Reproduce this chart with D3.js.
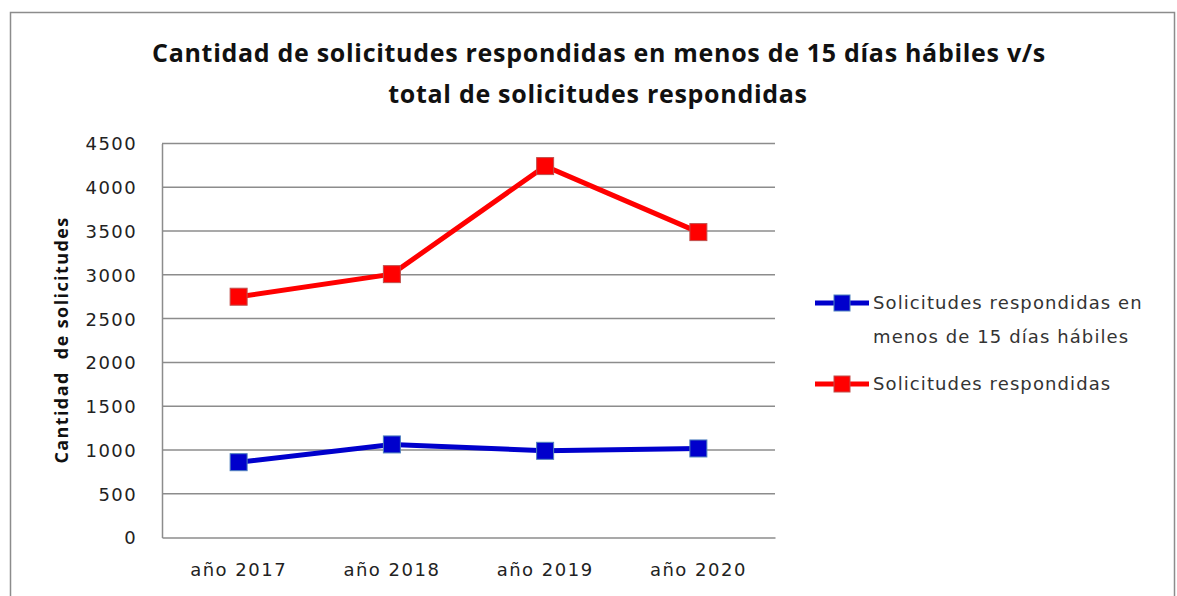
<!DOCTYPE html>
<html lang="es">
<head>
<meta charset="UTF-8">
<title>Cantidad de solicitudes</title>
<script src="https://d3js.org/d3.v7.min.js"></script>
<style>
    body { margin: 0; background: #fff; }
    svg { display: block; }
    .tick text { font-family: "DejaVu Sans", sans-serif; fill: #222; }
</style>
</head>
<body>
<svg id="chart" width="1177" height="596"></svg>
<script>
var years = ["año 2017", "año 2018", "año 2019", "año 2020"];
var enMenos15 = [860, 1063, 990, 1017];
var respondidas = [2750, 3008, 4242, 3488];
var yTicks = [0, 500, 1000, 1500, 2000, 2500, 3000, 3500, 4000, 4500];
var seriesNames = ["Solicitudes respondidas en|menos de 15 días hábiles", "Solicitudes respondidas"];

var margin = {top: 143.5, left: 162, right: 402, bottom: 58.5};
var W = 1177, H = 596;
var width = W - margin.left - margin.right,
    height = H - margin.top - margin.bottom;

var svg = d3.select("#chart");

// outer chart frame
svg.append("rect")
    .attr("x", 10.5).attr("y", 12.5)
    .attr("width", 1164).attr("height", 600)
    .attr("fill", "none").attr("stroke", "#8c8c8c").attr("stroke-width", 1.5);

// title
var title = svg.append("text")
    .attr("text-anchor", "middle")
    .style("font-family", "'Open Sans', sans-serif")
    .style("font-weight", "bold")
    .style("font-size", "25px")
    .style("letter-spacing", "0.7px")
    .attr("fill", "#111");
title.append("tspan").attr("x", 599).attr("y", 62)
    .text("Cantidad de solicitudes respondidas en menos de 15 días hábiles v/s");
title.append("tspan").attr("x", 598).attr("y", 103)
    .text("total de solicitudes respondidas");

var g = svg.append("g")
    .attr("transform", "translate(" + margin.left + "," + margin.top + ")");

var x = d3.scaleBand().domain(years).range([0, width]);
var y = d3.scaleLinear().domain([0, 4500]).range([height, 0]);

// gridlines
g.selectAll(".grid")
    .data(yTicks.slice(1))
  .enter().append("line")
    .attr("x1", 0).attr("x2", width)
    .attr("y1", function(d) { return y(d); })
    .attr("y2", function(d) { return y(d); })
    .attr("stroke", "#8c8c8c").attr("stroke-width", 1.5);

// y axis
var yAxis = g.append("g")
    .call(d3.axisLeft(y).tickValues(yTicks).tickFormat(d3.format("d")).tickSize(0).tickPadding(25));
yAxis.select(".domain").attr("stroke", "#8c8c8c").attr("stroke-width", 1.5);
yAxis.selectAll(".tick text")
    .style("font-size", "18px").style("letter-spacing", "1.4px")
    .attr("dy", "0.36em");

// x axis
var xAxis = g.append("g")
    .attr("transform", "translate(0," + height + ")")
    .call(d3.axisBottom(x).tickSize(0).tickPadding(26));
xAxis.select(".domain").attr("stroke", "#8c8c8c").attr("stroke-width", 1.5);
xAxis.selectAll(".tick text")
    .style("font-size", "18px").style("letter-spacing", "1.5px");

// y axis label
svg.append("text")
    .attr("transform", "translate(68,340) rotate(-90)")
    .attr("text-anchor", "middle")
    .attr("xml:space", "preserve")
    .style("white-space", "pre")
    .style("font-family", "'Open Sans', sans-serif")
    .style("font-weight", "bold")
    .style("font-size", "18px")
    .style("letter-spacing", "1.4px")
    .attr("fill", "#111")
    .text("Cantidad  de solicitudes");

var series = [
    {values: enMenos15, line: "#0000cc", fill: "#0000cc", stroke: "#4f81bd"},
    {values: respondidas, line: "#ff0000", fill: "#ff0000", stroke: "#c0504d"}
];

var line = d3.line()
    .x(function(d, i) { return x(years[i]) + x.bandwidth() / 2; })
    .y(function(d) { return y(d); });

var mk = 17;
series.forEach(function(s) {
    g.append("path")
        .datum(s.values)
        .attr("d", line)
        .attr("fill", "none")
        .attr("stroke", s.line)
        .attr("stroke-width", 5);
    g.selectAll(null)
        .data(s.values)
      .enter().append("rect")
        .attr("x", function(d, i) { return x(years[i]) + x.bandwidth() / 2 - mk / 2; })
        .attr("y", function(d) { return y(d) - mk / 2; })
        .attr("width", mk).attr("height", mk)
        .attr("fill", s.fill)
        .attr("stroke", s.stroke).attr("stroke-width", 1);
});

// legend
var legendY = [303, 384];
series.forEach(function(s, i) {
    var lg = svg.append("g").attr("transform", "translate(815," + legendY[i] + ")");
    lg.append("line").attr("x1", 0).attr("x2", 54).attr("y1", 0).attr("y2", 0)
        .attr("stroke", s.line).attr("stroke-width", 5);
    lg.append("rect").attr("x", 27 - 8).attr("y", -8).attr("width", 16).attr("height", 16)
        .attr("fill", s.fill).attr("stroke", s.stroke).attr("stroke-width", 1);
    var t = lg.append("text")
        .attr("x", 58).attr("y", 0)
        .style("font-family", "DejaVu Sans, sans-serif")
        .style("font-size", "18px")
        .style("letter-spacing", "1.1px")
        .attr("fill", "#333");
    seriesNames[i].split("|").forEach(function(part, k) {
        t.append("tspan").attr("x", 58).attr("dy", k === 0 ? "0.36em" : "34px").text(part);
    });
});
</script>
</body>
</html>
